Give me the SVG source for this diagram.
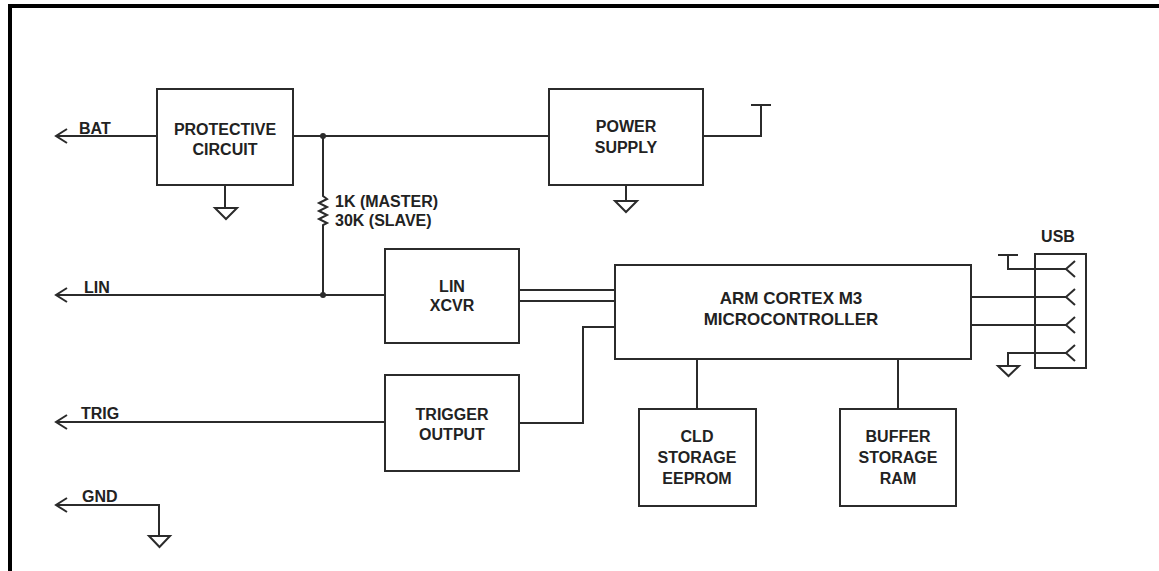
<svg xmlns="http://www.w3.org/2000/svg" width="1159" height="571" viewBox="0 0 1159 571">
<style>
.b{fill:#fff;stroke:#2b2b2b;stroke-width:2}
.w{fill:none;stroke:#2b2b2b;stroke-width:2}
.g{fill:#fff;stroke:#2b2b2b;stroke-width:2}
text{font-family:"Liberation Sans",Arial,sans-serif;font-weight:bold;font-size:16px;fill:#222}
.c{text-anchor:middle}
.l{font-size:17px}
</style>
<rect x="0" y="0" width="1159" height="571" fill="#fff"/>
<path d="M10 571V6H1159" fill="none" stroke="#000" stroke-width="4"/>
<g id="connectors">
<path class="w" d="M56 136H157M293 136H549M703 136H761V105M751 105H771"/>
<path class="w" d="M67 129L56 136L67 143"/>
<path class="w" d="M225 185V208"/>
<path class="w" d="M626 185V201"/>
<circle cx="323" cy="136" r="3" fill="#2b2b2b"/>
<path class="w" d="M323 136V196L327 199L319 203L327 207L319 211L327 215L319 219L327 223L323 225V295"/>
<circle cx="323" cy="295" r="3" fill="#2b2b2b"/>
<path class="w" d="M56 295H385"/>
<path class="w" d="M67 288L56 295L67 302"/>
<path class="w" d="M519 290H615M519 301H615"/>
<path class="w" d="M615 327H583V423H519"/>
<path class="w" d="M56 422H385"/>
<path class="w" d="M67 415L56 422L67 429"/>
<path class="w" d="M56 505H159V536"/>
<path class="w" d="M67 498L56 505L67 512"/>
<path class="w" d="M697 359V409M898 359V409"/>
<path class="w" d="M971 297H1066M971 325H1066"/>
<path class="w" d="M1066 269H1008V255M998 255H1018"/>
<path class="w" d="M1066 353H1008V366"/>
</g>
<g id="gnd-protective"><path class="g" d="M215 208H237L226 219Z"/></g>
<g id="gnd-power"><path class="g" d="M615 201H637L626 212Z"/></g>
<g id="gnd-main"><path class="g" d="M149 536H170L159.5 547Z"/></g>
<g id="gnd-usb"><path class="g" d="M998 366H1019L1008.5 376Z"/></g>
<g id="protective-circuit">
<rect class="b" x="157" y="89" width="136" height="96"/>
<text class="c" x="225" y="135">PROTECTIVE</text>
<text class="c" x="225" y="155">CIRCUIT</text>
</g>
<g id="power-supply">
<rect class="b" x="549" y="89" width="154" height="96"/>
<text class="c" x="626" y="132">POWER</text>
<text class="c" x="626" y="153">SUPPLY</text>
</g>
<g id="lin-xcvr">
<rect class="b" x="385" y="249" width="134" height="94"/>
<text class="c" x="452" y="292">LIN</text>
<text class="c" x="452" y="311">XCVR</text>
</g>
<g id="trigger-output">
<rect class="b" x="385" y="375" width="134" height="96"/>
<text class="c" x="452" y="420">TRIGGER</text>
<text class="c" x="452" y="440">OUTPUT</text>
</g>
<g id="arm">
<rect class="b" x="615" y="265" width="356" height="94"/>
<text class="c l" x="791" y="304">ARM CORTEX M3</text>
<text class="c l" x="791" y="325">MICROCONTROLLER</text>
</g>
<g id="cld">
<rect class="b" x="639" y="409" width="117" height="97"/>
<text class="c" x="697" y="442">CLD</text>
<text class="c" x="697" y="463">STORAGE</text>
<text class="c" x="697" y="484">EEPROM</text>
</g>
<g id="buffer">
<rect class="b" x="840" y="409" width="116" height="97"/>
<text class="c" x="898" y="442">BUFFER</text>
<text class="c" x="898" y="463">STORAGE</text>
<text class="c" x="898" y="484">RAM</text>
</g>
<g id="usb">
<rect class="w" x="1035" y="254" width="51" height="114"/>
<path class="w" d="M1075 261L1066 269L1075 277M1075 289L1066 297L1075 305M1075 317L1066 325L1075 333M1075 345L1066 353L1075 361"/>
<text class="c" x="1058" y="242">USB</text>
</g>
<g id="labels">
<text x="79" y="134">BAT</text>
<text x="84" y="293">LIN</text>
<text x="81" y="419">TRIG</text>
<text x="82" y="502">GND</text>
<text x="335" y="207">1K (MASTER)</text>
<text x="335" y="226">30K (SLAVE)</text>
</g>
</svg>
